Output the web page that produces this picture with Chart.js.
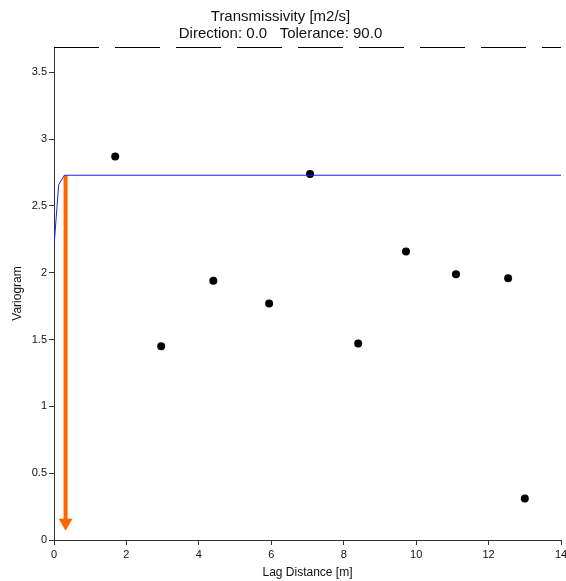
<!DOCTYPE html>
<html>
<head>
<meta charset="utf-8">
<script src="https://cdn.jsdelivr.net/npm/chart.js@4/dist/chart.umd.min.js"></script>
<style>
  html, body { margin: 0; padding: 0; background: #fff; }
  #wrap { width: 566px; height: 581px; }
</style>
</head>
<body>
<div id="wrap"><canvas id="vario"></canvas></div>
<script>
// experimental variogram points
const lagDistance = [1.69, 2.96, 4.40, 5.94, 7.07, 8.40, 9.72, 11.10, 12.54, 13.00];
const variogram   = [2.87, 1.45, 1.94, 1.77, 2.74, 1.47, 2.16, 1.99, 1.96, 0.31];

// fitted model curve
const modelLag   = [0, 0.13, 0.29, 14];
const modelGamma = [2.20, 2.66, 2.73, 2.73];

// orange range arrow
const arrowLag = [0.32, 0.32];
const arrowGamma = [2.73, 0.13];

const xTicks = [0, 2, 4, 6, 8, 10, 12, 14];
const yTicks = [0, 0.5, 1, 1.5, 2, 2.5, 3, 3.5];

const FONT = 'Liberation Sans, Arial, Helvetica, sans-serif';
const AXIS = '#333';

// dashed top frame line, like the original plot
const topDash = {
  id: 'topDash',
  afterDraw(chart) {
    const { ctx, chartArea } = chart;
    ctx.save();
    ctx.strokeStyle = '#000';
    ctx.lineWidth = 1;
    ctx.setLineDash([45, 16]);
    ctx.beginPath();
    ctx.moveTo(chartArea.left, chartArea.top + 0.5);
    ctx.lineTo(chartArea.right, chartArea.top + 0.5);
    ctx.stroke();
    ctx.restore();
  }
};

const ctx = document.getElementById('vario').getContext('2d');
const chart = new Chart(ctx, {
  type: 'scatter',
  data: {
    datasets: [
      {
        label: 'model',
        data: modelLag.map((x, i) => ({ x: x, y: modelGamma[i] })),
        showLine: true,
        borderColor: 'rgb(30,30,255)',
        borderWidth: 1,
        pointRadius: 0,
        tension: 0
      },
      {
        label: 'range',
        data: arrowLag.map((x, i) => ({ x: x, y: arrowGamma[i] })),
        showLine: true,
        borderColor: 'rgb(255,102,0)',
        borderWidth: 4,
        backgroundColor: 'rgb(255,102,0)',
        pointStyle: 'triangle',
        pointRotation: 180,
        pointRadius: [0, 8],
        pointBorderWidth: 0
      },
      {
        label: 'variogram',
        data: lagDistance.map((x, i) => ({ x: x, y: variogram[i] })),
        backgroundColor: '#000',
        borderColor: '#000',
        pointRadius: 4,
        borderWidth: 0
      }
    ]
  },
  options: {
    responsive: true,
    maintainAspectRatio: false,
    animation: false,
    layout: { autoPadding: false, padding: { right: 5 } },
    plugins: {
      legend: { display: false },
      tooltip: { enabled: false },
      title: {
        display: true,
        text: ['Transmissivity [m2/s]', 'Direction: 0.0   Tolerance: 90.0'],
        color: '#111',
        font: { family: FONT, size: 15, weight: 'normal', lineHeight: 1.1 },
        padding: { top: 9, bottom: 5 }
      }
    },
    scales: {
      x: {
        type: 'linear',
        min: 0,
        max: 14,
        afterBuildTicks: (s) => { s.ticks = xTicks.map(v => ({ value: v })); },
        afterFit: (s) => {
          s.height = 41;
          // let the "14" label hang over the right edge as in the original
          s.getPadding = () => ({ left: 0, top: 0, right: 0, bottom: 0 });
        },
        grid: { drawOnChartArea: false, tickLength: 5, color: AXIS },
        border: { color: AXIS },
        ticks: { color: '#111', padding: 3, font: { family: FONT, size: 11 }, callback: (v) => String(v) },
        title: {
          display: true,
          text: 'Lag Distance [m]',
          color: '#111',
          font: { family: FONT, size: 12 },
          padding: { top: 2, bottom: 1 }
        }
      },
      y: {
        type: 'linear',
        min: 0,
        max: 3.69,
        afterBuildTicks: (s) => { s.ticks = yTicks.map(v => ({ value: v })); },
        afterFit: (s) => { s.width = 54; },
        grid: { drawOnChartArea: false, tickLength: 5, color: AXIS },
        border: { color: AXIS },
        ticks: { color: '#111', padding: 2, font: { family: FONT, size: 11 }, callback: (v) => String(v) },
        title: {
          display: true,
          text: 'Variogram',
          color: '#111',
          font: { family: FONT, size: 12 },
          padding: { top: 10, bottom: 0 }
        }
      }
    }
  },
  plugins: [topDash]
});
</script>
</body>
</html>
